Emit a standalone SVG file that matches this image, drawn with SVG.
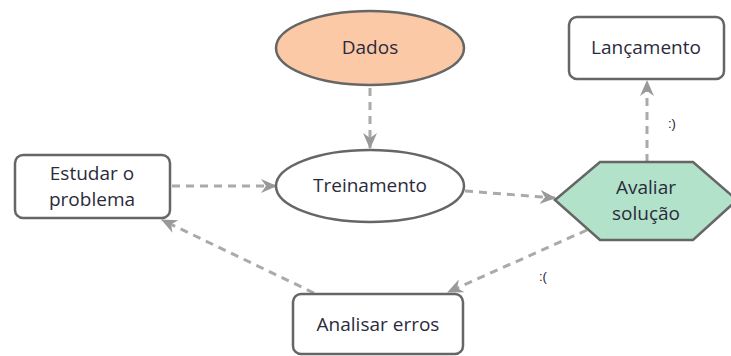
<svg xmlns="http://www.w3.org/2000/svg" width="731" height="356" viewBox="0 0 731 356">
  <style>
    .node { stroke: #666666; stroke-width: 2.5; }
    .box { fill: #ffffff; }
    .label { font-family: "Open Sans", "Liberation Sans", sans-serif; font-size: 19px; fill: #2b2b3c; text-anchor: middle; }
    .small { font-family: "Liberation Sans", sans-serif; font-size: 13px; fill: #222233; }
    .edge { fill: none; stroke: #aaaaaa; stroke-width: 3; stroke-dasharray: 8 6; }
  </style>
  <defs>
    <marker id="arrow" viewBox="0 0 16 14" refX="15" refY="7" markerWidth="16" markerHeight="14" markerUnits="userSpaceOnUse" orient="auto">
      <path d="M0,0 L16,7 L0,14 L5,7 Z" fill="#999999"/>
    </marker>
  </defs>

  <g id="connectors">
    <line class="edge" x1="370" y1="88" x2="370" y2="148" marker-end="url(#arrow)"/>
    <line class="edge" x1="172" y1="186" x2="276" y2="186" marker-end="url(#arrow)"/>
    <line class="edge" x1="465" y1="191" x2="555" y2="198" marker-end="url(#arrow)"/>
    <line class="edge" x1="647" y1="162" x2="647" y2="81" marker-end="url(#arrow)"/>
    <line class="edge" x1="587" y1="230" x2="448" y2="292" marker-end="url(#arrow)"/>
    <line class="edge" x1="314" y1="293" x2="162" y2="220" marker-end="url(#arrow)"/>
    <text class="small" x="668" y="128">:)</text>
    <text class="small" x="539" y="281">:(</text>
  </g>

  <g id="dados">
    <ellipse class="node" cx="370" cy="48" rx="94" ry="37" fill="#fbc9a6"/>
    <text class="label" x="370" y="54">Dados</text>
  </g>

  <g id="lancamento">
    <rect class="node box" x="569" y="17" width="155" height="62" rx="8"/>
    <text class="label" x="646" y="54">Lançamento</text>
  </g>

  <g id="estudar">
    <rect class="node box" x="15" y="155" width="155" height="63" rx="8"/>
    <text class="label" x="92" y="180">Estudar o</text>
    <text class="label" x="92" y="206">problema</text>
  </g>

  <g id="treinamento">
    <ellipse class="node box" cx="370" cy="186" rx="94" ry="36"/>
    <text class="label" x="370" y="192">Treinamento</text>
  </g>

  <g id="avaliar">
    <polygon class="node" points="555,200 600,162 693,162 737,200 693,240 600,240" fill="#b2e2ca"/>
    <text class="label" x="646" y="194">Avaliar</text>
    <text class="label" x="646" y="220">solução</text>
  </g>

  <g id="analisar">
    <rect class="node box" x="293" y="294" width="170" height="60" rx="8"/>
    <text class="label" x="378" y="331">Analisar erros</text>
  </g>
</svg>
